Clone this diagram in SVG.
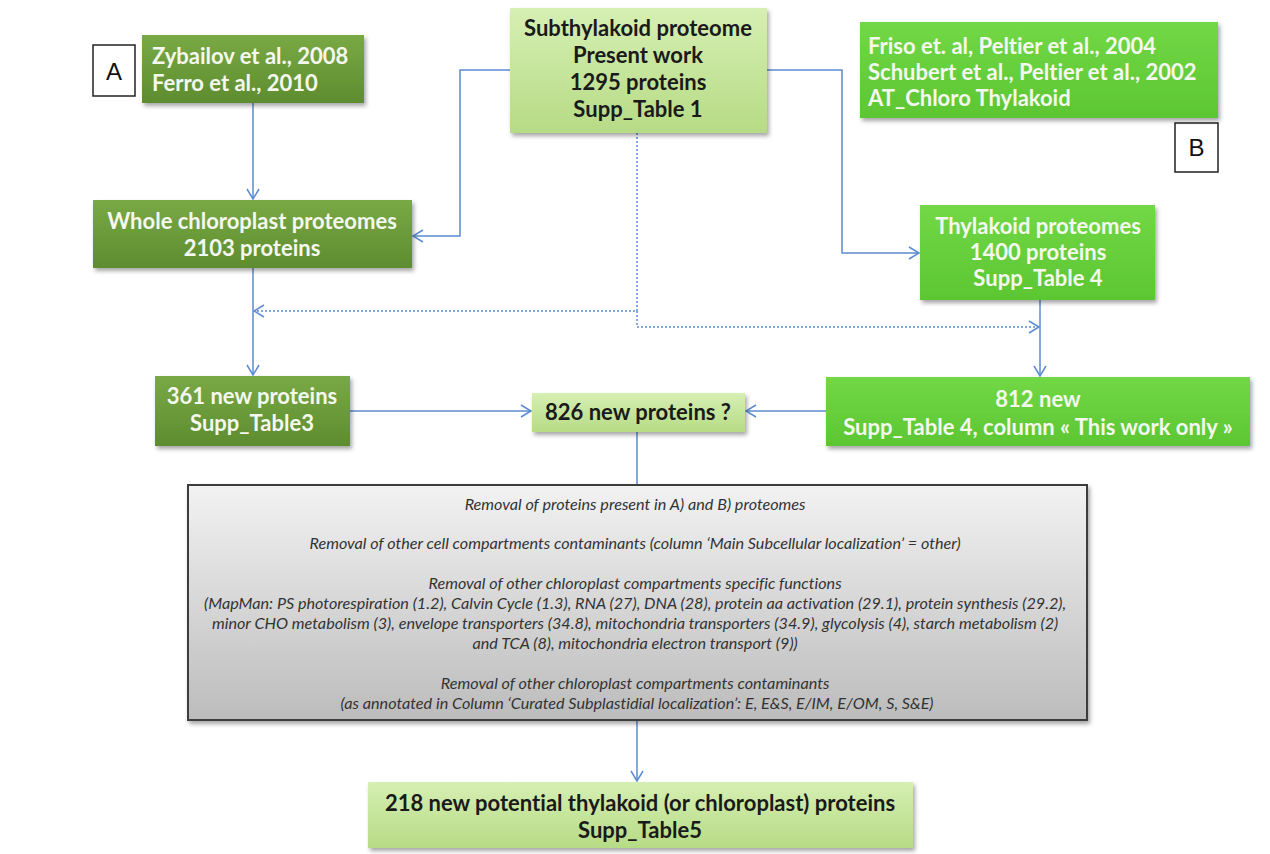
<svg xmlns="http://www.w3.org/2000/svg" width="1270" height="854" viewBox="0 0 1270 854">
<defs>
<linearGradient id="gDark" x1="0" y1="0" x2="0" y2="1"><stop offset="0" stop-color="#79a945"/><stop offset="1" stop-color="#5e8c2f"/></linearGradient>
<linearGradient id="gMid" x1="0" y1="0" x2="0" y2="1"><stop offset="0" stop-color="#72d846"/><stop offset="1" stop-color="#5cc632"/></linearGradient>
<linearGradient id="gLight" x1="0" y1="0" x2="0" y2="1"><stop offset="0" stop-color="#d6efb3"/><stop offset="1" stop-color="#b6db85"/></linearGradient>
<linearGradient id="gGray" x1="0" y1="0" x2="0" y2="1"><stop offset="0" stop-color="#f2f2f2"/><stop offset="1" stop-color="#bcbcbc"/></linearGradient>
<filter id="sh" x="-10%" y="-10%" width="120%" height="130%"><feDropShadow dx="2" dy="3" stdDeviation="2" flood-color="#000" flood-opacity="0.35"/></filter>
<marker id="ar" viewBox="0 0 12 14" refX="11" refY="7" markerWidth="12" markerHeight="14" markerUnits="userSpaceOnUse" orient="auto"><path d="M1,1 L11,7 L1,13" fill="none" stroke="#5b8bd0" stroke-width="1.5"/></marker>
</defs>
<style>
text{font-variant-ligatures:none}
.dark{fill:url(#gDark);filter:url(#sh)}
.mid{fill:url(#gMid);filter:url(#sh)}
.light{fill:url(#gLight);filter:url(#sh)}
.tw{font-family:Lato,"Open Sans",sans-serif;font-weight:bold;font-size:22px;fill:#f4f8ee}
.tb{font-family:Lato,"Open Sans",sans-serif;font-weight:bold;font-size:22px;fill:#1a1a1a}
.ti{font-family:Lato,"Open Sans",sans-serif;font-style:italic;font-size:16.2px;fill:#333}
.lbl{font-family:"Liberation Sans",Arial,sans-serif;font-size:24px;fill:#111}
.c{fill:none;stroke:#5b8bd0;stroke-width:1.5}
.d{fill:none;stroke:#5b8bd0;stroke-width:1.5;stroke-dasharray:2,2}
</style>
<rect width="1270" height="854" fill="#fff"/>
<g id="connectors">
<path class="c" d="M253,103 V199" marker-end="url(#ar)"/>
<path class="c" d="M510,70 H460 V236 H413" marker-end="url(#ar)"/>
<path class="c" d="M767,70 H842 V253 H919" marker-end="url(#ar)"/>
<path class="d" d="M637,133 V311 H254" marker-end="url(#ar)"/>
<path class="d" d="M637,311 V327 H1039" marker-end="url(#ar)"/>
<path class="c" d="M253,268 V375" marker-end="url(#ar)"/>
<path class="c" d="M1040,300 V376" marker-end="url(#ar)"/>
<path class="c" d="M350,411 H531" marker-end="url(#ar)"/>
<path class="c" d="M826,411 H746" marker-end="url(#ar)"/>
<path class="c" d="M637,432 V485"/>
<path class="c" d="M637,720 V781" marker-end="url(#ar)"/>
</g>
<g id="labelA"><rect x="93" y="45" width="42" height="51" fill="#fff" stroke="#222" stroke-width="1.5"/><text class="lbl" x="114" y="80" text-anchor="middle">A</text></g>
<g id="labelB"><rect x="1175" y="123" width="43" height="49" fill="#fff" stroke="#222" stroke-width="1.5"/><text class="lbl" x="1196.5" y="156" text-anchor="middle">B</text></g>
<g id="zybailov"><rect class="dark" x="142" y="35" width="222" height="68"/>
<text class="tw" x="152" y="64">Zybailov et al., 2008</text><text class="tw" x="152" y="91">Ferro et al., 2010</text></g>
<g id="subthylakoid"><rect class="light" x="510" y="8" width="257" height="125"/>
<text class="tb" text-anchor="middle" x="638"><tspan x="638" y="36">Subthylakoid proteome</tspan><tspan x="638" y="63">Present work</tspan><tspan x="638" y="90">1295 proteins</tspan><tspan x="638" y="117">Supp_Table 1</tspan></text></g>
<g id="friso"><rect class="mid" x="860" y="22" width="358" height="96"/>
<text class="tw"><tspan x="868" y="54">Friso et. al, Peltier et al., 2004</tspan><tspan x="868" y="80">Schubert et al., Peltier et al., 2002</tspan><tspan x="868" y="106">AT_Chloro Thylakoid</tspan></text></g>
<g id="whole"><rect class="dark" x="93" y="200" width="319" height="68"/>
<text class="tw" text-anchor="middle"><tspan x="252" y="229">Whole chloroplast proteomes</tspan><tspan x="252" y="256">2103 proteins</tspan></text></g>
<g id="thylakoid"><rect class="mid" x="920" y="205" width="235" height="95"/>
<text class="tw" text-anchor="middle"><tspan x="1038" y="234">Thylakoid proteomes</tspan><tspan x="1038" y="260">1400 proteins</tspan><tspan x="1038" y="286">Supp_Table 4</tspan></text></g>
<g id="new361"><rect class="dark" x="155" y="376" width="195" height="70"/>
<text class="tw" text-anchor="middle"><tspan x="252" y="404">361 new proteins</tspan><tspan x="252" y="431">Supp_Table3</tspan></text></g>
<g id="new826"><rect class="light" x="532" y="393" width="213" height="39"/>
<text class="tb" text-anchor="middle" x="638" y="420">826 new proteins ?</text></g>
<g id="new812"><rect class="mid" x="826" y="377" width="424" height="69"/>
<text class="tw" text-anchor="middle"><tspan x="1038" y="407">812 new</tspan><tspan x="1038" y="435">Supp_Table 4, column « This work only »</tspan></text></g>
<g id="filter"><rect x="188" y="485" width="899" height="235" fill="url(#gGray)" stroke="#3c3c3c" stroke-width="2" filter="url(#sh)"/>
<text class="ti" text-anchor="middle">
<tspan x="637" y="510">Removal of proteins present in A) and B) proteomes</tspan>
<tspan x="637" y="549">Removal of other cell compartments contaminants (column ‘Main Subcellular localization’ = other)</tspan>
<tspan x="637" y="589">Removal of other chloroplast compartments specific functions</tspan>
<tspan x="637" y="609">(MapMan: PS photorespiration (1.2), Calvin Cycle (1.3), RNA (27), DNA (28), protein aa activation (29.1), protein synthesis (29.2),</tspan>
<tspan x="637" y="629">minor CHO metabolism (3), envelope transporters (34.8), mitochondria transporters (34.9), glycolysis (4), starch metabolism (2)</tspan>
<tspan x="637" y="649">and TCA (8), mitochondria electron transport (9))</tspan>
<tspan x="637" y="689">Removal of other chloroplast compartments contaminants</tspan>
<tspan x="637" y="709">(as annotated in Column  ‘Curated Subplastidial localization’: E, E&amp;S, E/IM, E/OM, S, S&amp;E)</tspan>
</text></g>
<g id="final"><rect class="light" x="368" y="782" width="545" height="66"/>
<text class="tb" text-anchor="middle"><tspan x="640" y="811">218 new potential thylakoid (or chloroplast) proteins</tspan><tspan x="640" y="838">Supp_Table5</tspan></text></g>
</svg>
